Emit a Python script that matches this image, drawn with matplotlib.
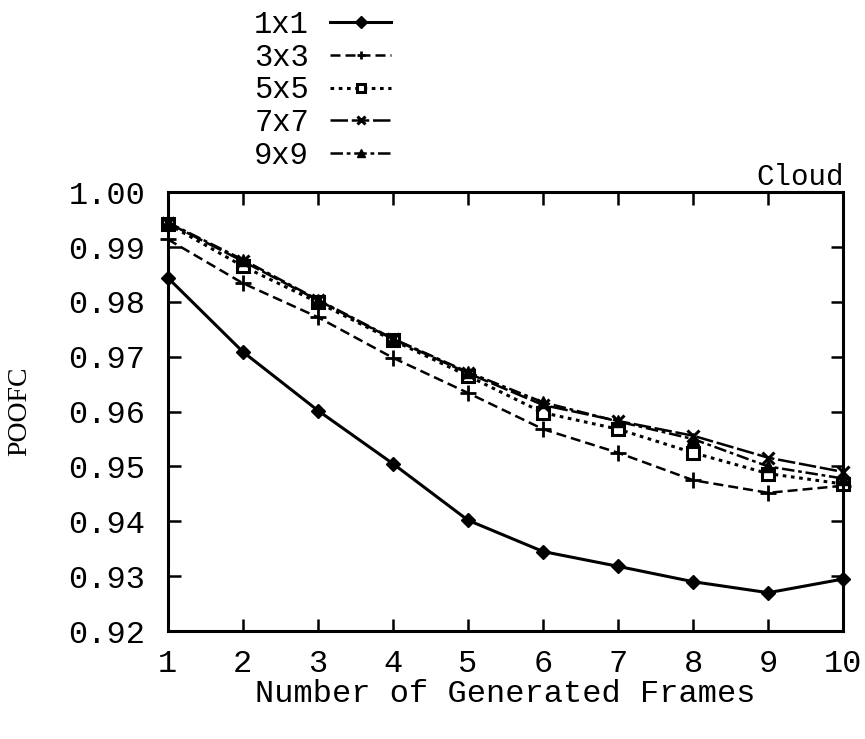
import numpy as np
import matplotlib
matplotlib.use("Agg")
import matplotlib.pyplot as plt
from matplotlib.legend_handler import HandlerLine2D

# data
frames = [1, 2, 3, 4, 5, 6, 7, 8, 9, 10]
poofc_1x1 = [0.9844, 0.9709, 0.9602, 0.9505, 0.9402, 0.9345, 0.9318, 0.9290, 0.9270, 0.9295]
poofc_3x3 = [0.9914, 0.9834, 0.9772, 0.9698, 0.9634, 0.9568, 0.9525, 0.9475, 0.9452, 0.9465]
poofc_5x5 = [0.9942, 0.9865, 0.9799, 0.9730, 0.9665, 0.9598, 0.9568, 0.9525, 0.9487, 0.9468]
poofc_7x7 = [0.9944, 0.9874, 0.9803, 0.9732, 0.9670, 0.9612, 0.9583, 0.9556, 0.9516, 0.9490]
poofc_9x9 = [0.9945, 0.9877, 0.9804, 0.9733, 0.9672, 0.9617, 0.9582, 0.9550, 0.9500, 0.9478]
labels = ["1x1", "3x3", "5x5", "7x7", "9x9"]
y_ticks = [0.92, 0.93, 0.94, 0.95, 0.96, 0.97, 0.98, 0.99, 1.00]

mono = "Liberation Mono"
serif = "Liberation Serif"


# put the legend marker about a third along the line, like the scan
class LeftMarker(HandlerLine2D):
    def get_xdata(self, legend, xdescent, ydescent, width, height, fontsize):
        xdata, _ = super().get_xdata(legend, xdescent, ydescent, width, height, fontsize)
        return xdata, np.array([0.33 * width - xdescent])


fig = plt.figure(figsize=(8.65, 7.39), dpi=100)
ax = fig.add_axes([0.194, 0.146, 0.781, 0.594])

series = [poofc_1x1, poofc_3x3, poofc_5x5, poofc_7x7, poofc_9x9]
styles = [
    dict(ls="-", marker="D", ms=7, mfc="black", lw=2.2),
    dict(ls=(0, (4, 2)), marker="+", ms=11, mew=2, lw=1.8),
    dict(ls=(0, (1.2, 1.5)), marker="s", ms=8, mfc="white", mew=2.2, lw=2.2),
    dict(ls=(0, (7, 1.5)), marker="x", ms=9, mew=2.2, lw=1.8),
    dict(ls=(0, (5, 1.5, 1.5, 1.5)), marker="^", ms=9, mfc="black", lw=1.8),
]
handles = []
for vals, lab, st in zip(series, labels, styles):
    h, = ax.plot(frames, vals, color="black", label=lab, clip_on=False, **st)
    handles.append(h)

ax.set_xlim(1, 10)
ax.set_ylim(0.92, 1.00)
ax.set_xticks(frames)
ax.set_yticks(y_ticks)
ax.set_yticklabels(["%.2f" % v for v in y_ticks], fontfamily=mono, fontsize=23)
ax.set_xticklabels([str(f) for f in frames], fontfamily=mono, fontsize=23)
ax.tick_params(direction="in", length=9, width=1.8, top=True, right=True)
ax.tick_params(axis="y", pad=16)
ax.tick_params(axis="x", pad=13)
for s in ax.spines.values():
    s.set_linewidth(2.2)

ax.set_xlabel("Number of Generated Frames", fontfamily=mono, fontsize=23, labelpad=0)
ax.set_ylabel("POOFC", fontfamily=serif, fontsize=20)
ax.yaxis.set_label_coords(-0.2, 0.5)
ax.set_title("Cloud", fontfamily=mono, fontsize=21, loc="right", pad=5)

leg = fig.legend(handles=handles, labels=labels, loc="upper left",
                 bbox_to_anchor=(0.262, 1.024), frameon=False, markerfirst=False,
                 prop={"family": mono, "size": 22}, handlelength=2.0,
                 handletextpad=0.7, labelspacing=0.09, numpoints=1,
                 handler_map={h: LeftMarker() for h in handles})
for lh in leg.get_lines():
    lh.set_markersize(6)

fig.savefig("out.png", dpi=100)
